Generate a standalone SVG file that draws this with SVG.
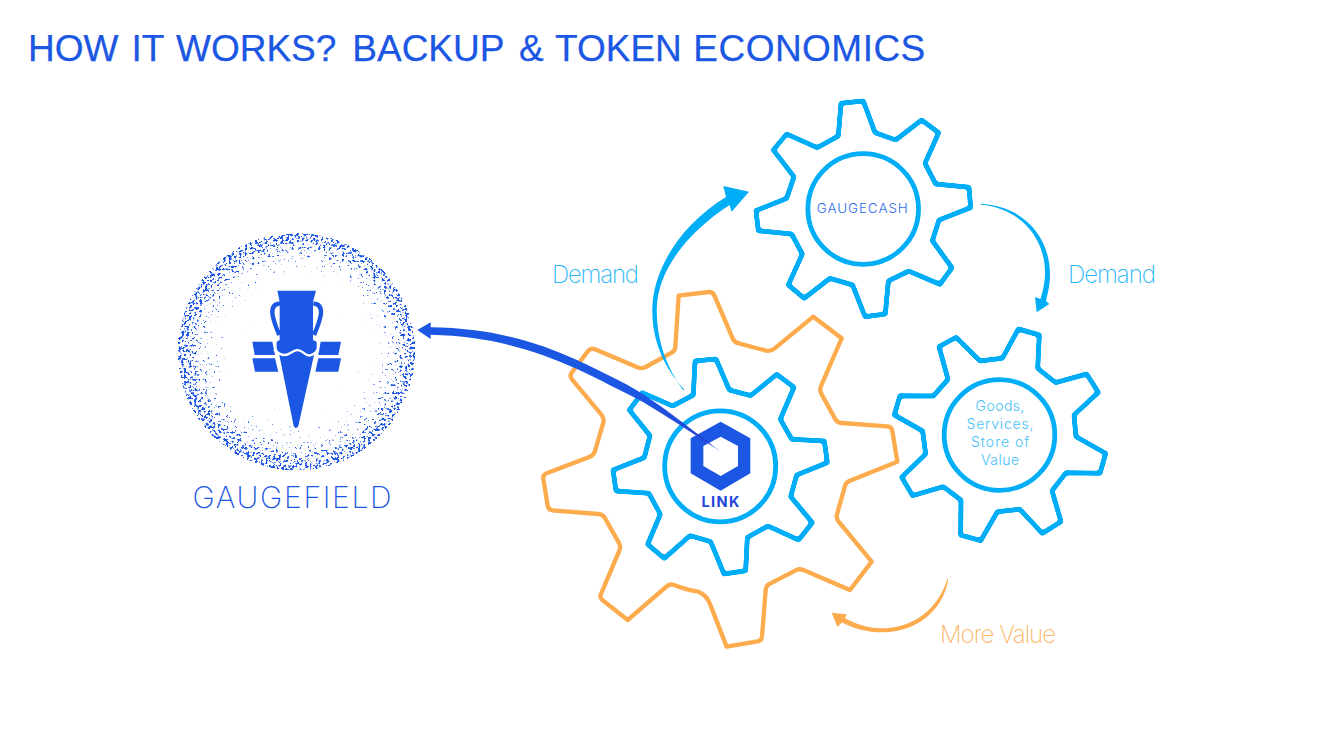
<svg xmlns="http://www.w3.org/2000/svg" width="1334" height="750" viewBox="0 0 1334 750">
<style>
.gear{fill:none;stroke:#00adf7;stroke-width:15;stroke-linejoin:round;filter:url(#rnd)}
.ring{fill:none;stroke:#00adf7;stroke-width:4.8}
.lab{font-family:"Inter","Liberation Sans",sans-serif;font-weight:200;font-size:24px}
.in{font-family:"Inter","Liberation Sans",sans-serif;font-weight:300;font-size:14px;text-anchor:middle;fill:#45bffa}
.t{font-family:"Liberation Sans",Arial,sans-serif;font-size:37px;fill:#1b57e3;stroke:#1b57e3;stroke-width:.25}
</style>
<defs>
<filter id="rnd" x="-5%" y="-5%" width="110%" height="110%" color-interpolation-filters="sRGB">
<feGaussianBlur stdDeviation="3.3"/>
<feComponentTransfer><feFuncA type="linear" slope="5" intercept="-2"/></feComponentTransfer>
</filter>
<radialGradient id="rg" gradientUnits="userSpaceOnUse" cx="298" cy="351" r="121">
<stop offset="0.55" stop-color="#000" stop-opacity="0.6"/>
<stop offset="0.8" stop-color="#000" stop-opacity="0.77"/>
<stop offset="0.92" stop-color="#000" stop-opacity="0.96"/>
<stop offset="1" stop-color="#000" stop-opacity="1"/>
</radialGradient>
<filter id="stipple" x="170" y="225" width="252" height="252" filterUnits="userSpaceOnUse" color-interpolation-filters="sRGB">
<feTurbulence type="fractalNoise" baseFrequency="0.38" numOctaves="2" seed="11" result="n"/>
<feColorMatrix in="n" type="matrix" values="0 0 0 0 0 0 0 0 0 0 0 0 0 0 0 1 0 0 0 0" result="na"/>
<feComposite in="SourceGraphic" in2="na" operator="arithmetic" k1="1" k2="0" k3="0" k4="-0.5" result="a"/>
<feComponentTransfer in="a" result="t"><feFuncA type="linear" slope="12" intercept="0"/></feComponentTransfer>
<feFlood flood-color="#1b57e3"/>
<feComposite in2="t" operator="in"/>
</filter>
<linearGradient id="bg" gradientUnits="userSpaceOnUse" x1="417" y1="330" x2="720" y2="451">
<stop offset="0.72" stop-color="#1b57e3"/><stop offset="0.95" stop-color="#2b40d2"/><stop offset="1" stop-color="#5a80ee"/>
</linearGradient>
</defs>
<rect width="1334" height="750" fill="#fff"/>
<text id="title" class="t" y="60.7"><tspan x="28">HOW </tspan><tspan x="131.6">IT </tspan><tspan x="176">WORKS? </tspan><tspan x="352.3">BACKUP </tspan><tspan x="519">&amp; </tspan><tspan x="555">TOKEN </tspan><tspan x="693.3" textLength="232" lengthAdjust="spacing">ECONOMICS</tspan></text>

<g id="gaugefield">
<circle cx="296.3" cy="351.7" r="119" fill="url(#rg)" filter="url(#stipple)"/>
<g transform="translate(160 220) scale(.33333)" fill="#1b57e3">
<path d="M352 212H468L459 245V360L470 365V385L462 405L415 618Q408 630 401 618L358 405L350 385V365L359 360V245Z"/>
<path d="M360 250Q335 252 337 280Q340 305 358 345M460 250Q485 252 483 280Q480 305 462 345" fill="none" stroke="#1b57e3" stroke-width="13"/>
<path d="M277 365H337L345 405H284ZM277 415H345L355 455H285ZM482 365H543L535 405H475ZM475 415H543L535 455H466Z"/>
<path d="M342 388C358 404 375 410 390 400S415 385 430 398S456 410 476 388" fill="none" stroke="#fff" stroke-width="7"/>
</g>
<text x="292" y="508.3" font-family="Inter,'Liberation Sans',sans-serif" font-weight="250" font-size="30" text-anchor="middle" fill="#1b57e3" textLength="199" lengthAdjust="spacing">GAUGEFIELD</text>
</g>

<g id="link-orange-gear">
<path transform="translate(530 280) scale(.33333)" fill="none" stroke="#fcab4d" stroke-width="13" stroke-linejoin="round" d="M446 47L536 36Q548 35 553 46L608 175Q613 187 626 190L708 212Q722 215 733 206L850 110L935 175L873 318Q868 330 874 341L916 418Q922 428 935 429L1072 439Q1085 440 1087 453L1102 545L958 603Q948 607 945 618L921 703Q918 715 926 725L1025 845L960 930L820 870Q808 865 797 871L716 913Q708 918 707 930L696 1070Q695 1082 683 1084L590 1100L540 972Q530 945 505 935Q470 930 432 915Q420 911 410 919L293 1020L217 960Q208 953 213 942L268 812Q273 800 267 789L224 713Q218 703 205 702L68 691Q55 690 53 677L40 597Q38 585 50 580L180 530Q192 525 195 513L220 428Q223 415 215 405L126 298Q118 288 125 278L175 212Q183 203 195 208L322 262Q335 267 347 261L425 218Q436 212 436 200Z"/>
</g>

<g id="link">
<polygon class="gear" transform="translate(530 280) scale(.33333)" points="495,243 558,237 598,330 662,347 740,283 792,322 751,418 785,478 883,483 892,548 800,585 782,650 847,728 806,780 714,738 652,772 647,872 582,882 542,785 480,767 403,835 353,793 391,703 357,640 258,633 249,570 343,533 360,467 298,390 337,338 428,378 490,345"/>
<circle class="ring" cx="720.2" cy="466.3" r="55.5"/>
<path transform="translate(530 280) scale(.33333)" fill="#1b57e3" fill-rule="evenodd" d="M572 425L661 475V580L572 632L482 580V475ZM572 470L520 498V558L572 588L624 558V498Z"/>
<text x="720.4" y="506.7" font-family="Inter,'Liberation Sans',sans-serif" font-weight="700" font-size="14.5" text-anchor="middle" fill="#2247d8" textLength="38" lengthAdjust="spacing">LINK</text>
</g>

<g id="gaugecash">
<polygon class="gear" transform="translate(740 90) scale(.33333)" points="303,40 370,33 405,128 467,150 545,90 596,128 555,220 587,282 687,292 692,353 597,390 577,452 636,533 600,583 506,543 445,573 436,672 375,680 338,585 270,565 193,625 145,585 187,492 155,432 55,422 48,362 140,325 162,260 100,180 140,132 232,173 295,138"/>
<circle class="ring" cx="863.2" cy="209" r="55.3"/>
<text x="862.3" y="212.7" font-family="Inter,'Liberation Sans',sans-serif" font-weight="300" font-size="13.5" text-anchor="middle" fill="#2f6bee" textLength="91" lengthAdjust="spacing">GAUGECASH</text>
</g>

<g id="goods">
<polygon class="gear" transform="translate(880 320) scale(.33333)" points="415,27 478,45 473,145 527,188 620,162 655,217 582,285 588,350 677,400 660,460 558,458 516,512 543,605 487,640 420,568 352,575 302,662 242,645 243,540 190,500 98,527 65,472 137,402 128,333 43,285 60,227 160,228 204,178 177,80 228,52 300,123 367,115"/>
<circle class="ring" cx="999.5" cy="435" r="55.3"/>
<text class="in" x="1000" y="411" textLength="49" lengthAdjust="spacing">Goods,</text>
<text class="in" x="1000" y="429" textLength="67" lengthAdjust="spacing">Services,</text>
<text class="in" x="1000" y="447" textLength="58" lengthAdjust="spacing">Store of</text>
<text class="in" x="1000" y="465" textLength="38" lengthAdjust="spacing">Value</text>
</g>

<g id="connectors">
<path fill="#00adf7" d="M684.2 389.4C664 368 652 340 652.3 310C652.5 270 680 225 726 197L723.3 186L749 191.7L731.7 211.7L729.5 205C688 232 657 270 656.7 310C656.7 340 666 367 683.2 390.2Z"/>
<path fill="#00adf7" d="M981 204.7C1020 208 1046 238 1045 275C1044.5 285 1042.5 292 1040.5 299L1035 297L1036.7 312.3L1049.3 304L1046 301C1048 292 1050 285 1050 275C1050 235 1022 206 981 203.7Z"/>
<path fill="#fcab4d" d="M947.3 579C938 610 912 628 883.3 628.3C868 628.5 855 624 845 618L846.7 614.3L831.7 612.7L837.3 626.7L842 622.5C855 629 868 632.5 883.3 632.3C915 632 943 612 948.3 579Z"/>
<path fill="url(#bg)" d="M430.7 322.3L417.3 330L430.7 339V334.7C490 336 535 350 577 369C600 380 620 390 643 402C670 418 695 435 720 451.3C695 432 670 412 643 394C620 380 600 371 577 360C535 341 490 328 430.7 327.3Z"/>
</g>

<text class="lab" x="552" y="282.7" fill="#2cb6f8" textLength="87" lengthAdjust="spacing">Demand</text>
<text class="lab" x="1068" y="283" fill="#2cb6f8" textLength="88" lengthAdjust="spacing">Demand</text>
<text class="lab" x="940" y="643.3" fill="#fcb768" textLength="116" lengthAdjust="spacing">More Value</text>
</svg>
